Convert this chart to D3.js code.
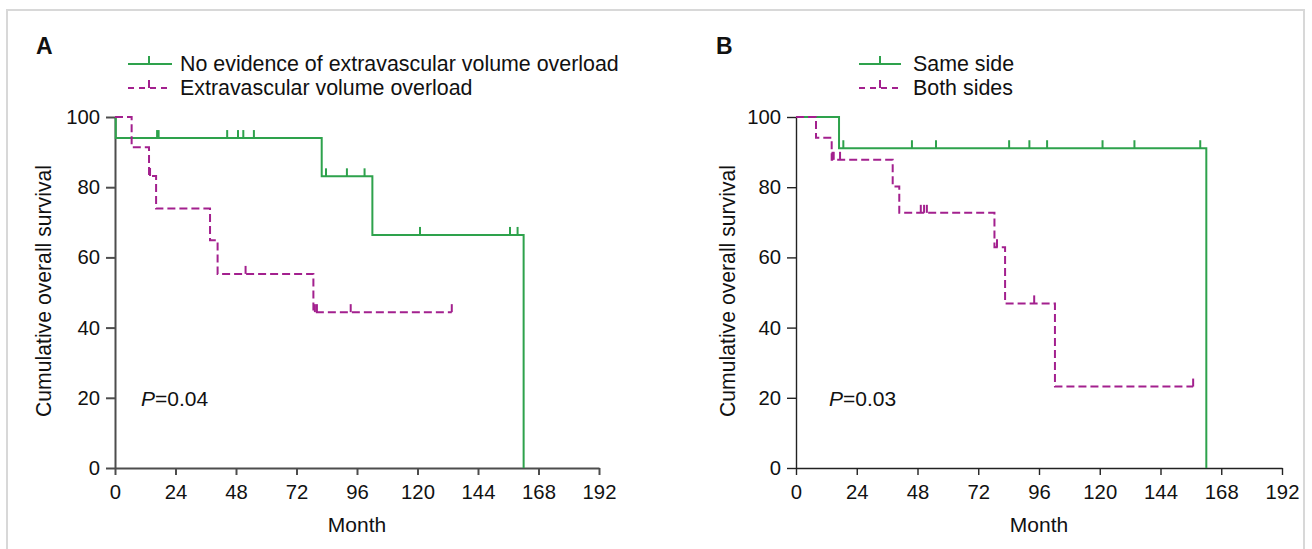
<!DOCTYPE html>
<html><head><meta charset="utf-8">
<script src="https://cdn.jsdelivr.net/npm/d3@7/dist/d3.min.js"></script>
<style>
body{margin:0;background:#fff;}
svg text{font-family:Arial,"Liberation Sans",sans-serif;fill:#111;}
</style></head>
<body><svg id="c" width="1312" height="549"></svg>
<script>
// ---------- data ----------
const xTicks = [0,24,48,72,96,120,144,168,192];
const yTicks = [0,20,40,60,80,100];

// Panel A
const aGreenStepTimes  = [0, 0.3, 82.0, 102.1, 162.1];
const aGreenStepValues = [100, 94.0, 83.1, 66.4, 0];
const aGreenEnd = 162.1;
const aGreenCensor = [16.7, 17.3, 44.5, 48.8, 50.9, 55.1, 83.7, 92.0, 99.0, 121.0, 156.7, 159.7];

const aMagStepTimes  = [0, 6.6, 13.5, 16.3, 37.7, 40.7, 78.7];
const aMagStepValues = [100, 91.4, 83.2, 73.9, 64.9, 55.3, 44.4];
const aMagEnd = 133.6;
const aMagCensor = [13.9, 51.8, 79.3, 80.1, 93.5, 133.6];

// Panel B
const bGreenStepTimes  = [0, 17.0, 162.1];
const bGreenStepValues = [100, 91.1, 0];
const bGreenEnd = 162.1;
const bGreenCensor = [18.7, 45.8, 55.3, 84.2, 92.2, 99.2, 121.1, 133.7, 159.7];

const bMagStepTimes  = [0, 7.9, 14.1, 38.2, 40.8, 78.4, 82.6, 102.3];
const bMagStepValues = [100, 94.1, 87.8, 80.2, 72.7, 62.9, 46.9, 23.2];
const bMagEnd = 156.9;
const bMagCensor = [14.4, 14.9, 17.4, 49.3, 50.6, 51.7, 79.4, 94.1, 156.9];

const legendA = ["No evidence of extravascular volume overload", "Extravascular volume overload"];
const legendB = ["Same side", "Both sides"];
const pA = "0.04", pB = "0.03";

// ---------- styles ----------
const GREEN = "#2ea24c", MAG = "#a3208e";
const svg = d3.select("#c");

svg.append("rect").attr("x",7).attr("y",10).attr("width",1297).attr("height",560)
  .attr("fill","none").attr("stroke","#d8d8d8").attr("stroke-width",2);

function stepVal(times, vals, t){
  let v = vals[0];
  for(let i=0;i<times.length;i++){ if(times[i] <= t) v = vals[i]; }
  return v;
}

function panel(cfg){
  const x = d3.scaleLinear().domain([0,192]).range(cfg.xr);
  const y = d3.scaleLinear().domain([0,100]).range([468,117]);
  const g = svg.append("g");

  // axes
  const ya = g.append("g").attr("transform",`translate(${cfg.xr[0]},0)`)
    .call(d3.axisLeft(y).tickValues(yTicks).tickSize(9).tickPadding(6).tickSizeOuter(0));
  const xa = g.append("g").attr("transform",`translate(0,468)`)
    .call(d3.axisBottom(x).tickValues(xTicks).tickSize(7).tickPadding(10).tickSizeOuter(0));
  [ya,xa].forEach(a=>{
    a.selectAll("path,line").attr("stroke",cfg.axisColor).attr("stroke-width",cfg.axisW);
    a.selectAll("text").attr("font-size",20.3).attr("fill","#111").style("font-family","Arial, 'Liberation Sans', sans-serif");
  });

  g.append("text").attr("x",(cfg.xr[0]+cfg.xr[1])/2).attr("y",532).attr("text-anchor","middle")
    .attr("font-size",21).text("Month");
  g.append("text").attr("transform",`translate(${cfg.ylabX},291) rotate(-90)`)
    .attr("text-anchor","middle").attr("dominant-baseline","central").attr("font-size",21.2)
    .text("Cumulative overall survival");

  // curves
  const line = d3.line().x(d=>x(d[0])).y(d=>y(d[1])).curve(d3.curveStepAfter);
  cfg.curves.forEach(c=>{
    const pts = c.times.map((t,i)=>[t,c.vals[i]]);
    if(c.times[c.times.length-1] < c.end) pts.push([c.end, c.vals[c.vals.length-1]]);
    g.append("path").attr("d",line(pts)).attr("fill","none").attr("stroke",c.color)
      .attr("stroke-width",2).attr("stroke-dasharray",c.dash||null);
    g.selectAll(null).data(c.censor).enter().append("line")
      .attr("x1",d=>x(d)).attr("x2",d=>x(d))
      .attr("y1",d=>y(stepVal(c.times,c.vals,d)))
      .attr("y2",d=>y(stepVal(c.times,c.vals,d))-8)
      .attr("stroke",c.color).attr("stroke-width",2);
  });

  // P value
  const pt = g.append("text").attr("x",cfg.pX).attr("y",406).attr("font-size",21);
  pt.append("tspan").attr("font-style","italic").text("P");
  pt.append("tspan").text("=" + cfg.p);

  // panel letter
  g.append("text").attr("x",cfg.letterX).attr("y",54).attr("font-size",23)
    .attr("font-weight","bold").text(cfg.letter);

  // legend
  const L = cfg.leg;
  const rows = [{yy:64,color:GREEN,dash:null,label:L.labels[0]},{yy:88,color:MAG,dash:"6,5",label:L.labels[1]}];
  rows.forEach(r=>{
    g.append("line").attr("x1",L.x0).attr("x2",L.x1).attr("y1",r.yy).attr("y2",r.yy)
      .attr("stroke",r.color).attr("stroke-width",2).attr("stroke-dasharray",r.dash);
    g.append("line").attr("x1",L.tick).attr("x2",L.tick).attr("y1",r.yy).attr("y2",r.yy-8)
      .attr("stroke",r.color).attr("stroke-width",2);
    g.append("text").attr("x",L.tx).attr("y",r.yy).attr("dominant-baseline","central")
      .attr("font-size",21.4).text(r.label);
  });
}

panel({
  xr:[115,599], axisColor:"#4d4d4d", axisW:2, ylabX:43, pX:141, p:pA, letter:"A", letterX:36,
  leg:{x0:128,x1:172,tick:149,tx:180,labels:legendA},
  curves:[
    {times:aGreenStepTimes, vals:aGreenStepValues, end:aGreenEnd, censor:aGreenCensor, color:GREEN},
    {times:aMagStepTimes, vals:aMagStepValues, end:aMagEnd, censor:aMagCensor, color:MAG, dash:"8,4"}
  ]
});
panel({
  xr:[796,1282], axisColor:"#222", axisW:1.4, ylabX:727, pX:829, p:pB, letter:"B", letterX:716,
  leg:{x0:859,x1:901,tick:880,tx:913,labels:legendB},
  curves:[
    {times:bGreenStepTimes, vals:bGreenStepValues, end:bGreenEnd, censor:bGreenCensor, color:GREEN},
    {times:bMagStepTimes, vals:bMagStepValues, end:bMagEnd, censor:bMagCensor, color:MAG, dash:"8,4"}
  ]
});
</script></body></html>
